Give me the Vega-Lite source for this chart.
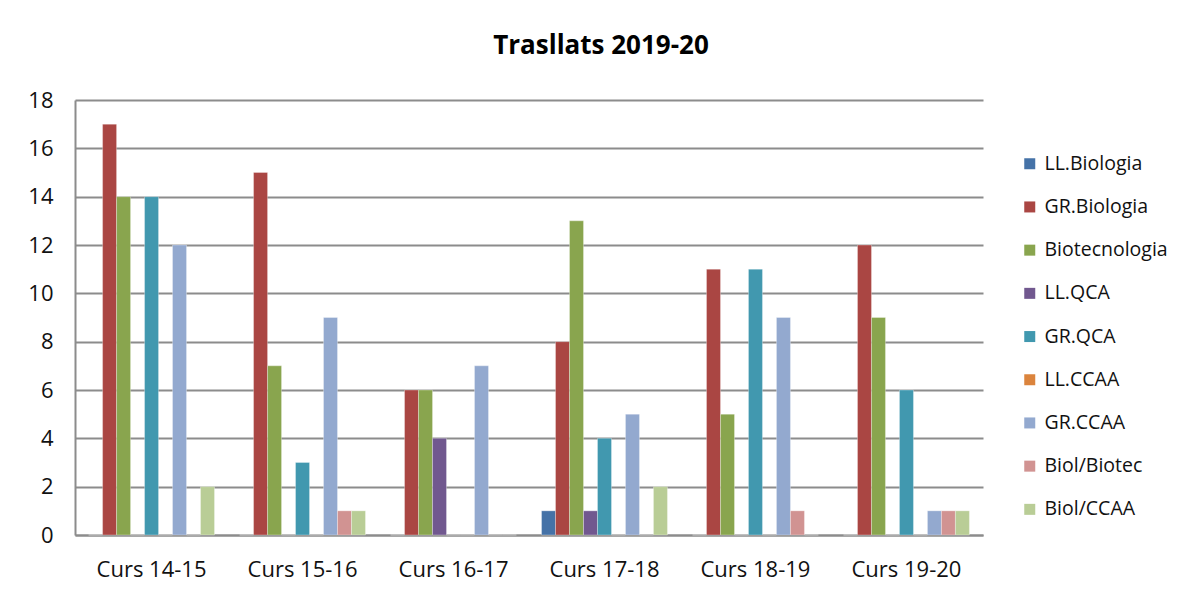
{
  "$schema": "https://vega.github.io/schema/vega-lite/v6.json",
  "width": 908,
  "height": 435,
  "autosize": "none",
  "padding": {"left": 75, "top": 100, "right": 196, "bottom": 59},
  "background": "white",
  "title": {
    "text": "Trasllats 2019-20",
    "font": "Open Sans",
    "fontSize": 26,
    "fontWeight": "bold",
    "color": "#000000",
    "anchor": "middle",
    "frame": "group",
    "dx": 72,
    "offset": 30
  },
  "data": {
    "values": [
      {"curs": "Curs 14-15", "serie": "LL.Biologia", "valor": 0},
      {"curs": "Curs 14-15", "serie": "GR.Biologia", "valor": 17},
      {"curs": "Curs 14-15", "serie": "Biotecnologia", "valor": 14},
      {"curs": "Curs 14-15", "serie": "LL.QCA", "valor": 0},
      {"curs": "Curs 14-15", "serie": "GR.QCA", "valor": 14},
      {"curs": "Curs 14-15", "serie": "LL.CCAA", "valor": 0},
      {"curs": "Curs 14-15", "serie": "GR.CCAA", "valor": 12},
      {"curs": "Curs 14-15", "serie": "Biol/Biotec", "valor": 0},
      {"curs": "Curs 14-15", "serie": "Biol/CCAA", "valor": 2},
      {"curs": "Curs 15-16", "serie": "LL.Biologia", "valor": 0},
      {"curs": "Curs 15-16", "serie": "GR.Biologia", "valor": 15},
      {"curs": "Curs 15-16", "serie": "Biotecnologia", "valor": 7},
      {"curs": "Curs 15-16", "serie": "LL.QCA", "valor": 0},
      {"curs": "Curs 15-16", "serie": "GR.QCA", "valor": 3},
      {"curs": "Curs 15-16", "serie": "LL.CCAA", "valor": 0},
      {"curs": "Curs 15-16", "serie": "GR.CCAA", "valor": 9},
      {"curs": "Curs 15-16", "serie": "Biol/Biotec", "valor": 1},
      {"curs": "Curs 15-16", "serie": "Biol/CCAA", "valor": 1},
      {"curs": "Curs 16-17", "serie": "LL.Biologia", "valor": 0},
      {"curs": "Curs 16-17", "serie": "GR.Biologia", "valor": 6},
      {"curs": "Curs 16-17", "serie": "Biotecnologia", "valor": 6},
      {"curs": "Curs 16-17", "serie": "LL.QCA", "valor": 4},
      {"curs": "Curs 16-17", "serie": "GR.QCA", "valor": 0},
      {"curs": "Curs 16-17", "serie": "LL.CCAA", "valor": 0},
      {"curs": "Curs 16-17", "serie": "GR.CCAA", "valor": 7},
      {"curs": "Curs 16-17", "serie": "Biol/Biotec", "valor": 0},
      {"curs": "Curs 16-17", "serie": "Biol/CCAA", "valor": 0},
      {"curs": "Curs 17-18", "serie": "LL.Biologia", "valor": 1},
      {"curs": "Curs 17-18", "serie": "GR.Biologia", "valor": 8},
      {"curs": "Curs 17-18", "serie": "Biotecnologia", "valor": 13},
      {"curs": "Curs 17-18", "serie": "LL.QCA", "valor": 1},
      {"curs": "Curs 17-18", "serie": "GR.QCA", "valor": 4},
      {"curs": "Curs 17-18", "serie": "LL.CCAA", "valor": 0},
      {"curs": "Curs 17-18", "serie": "GR.CCAA", "valor": 5},
      {"curs": "Curs 17-18", "serie": "Biol/Biotec", "valor": 0},
      {"curs": "Curs 17-18", "serie": "Biol/CCAA", "valor": 2},
      {"curs": "Curs 18-19", "serie": "LL.Biologia", "valor": 0},
      {"curs": "Curs 18-19", "serie": "GR.Biologia", "valor": 11},
      {"curs": "Curs 18-19", "serie": "Biotecnologia", "valor": 5},
      {"curs": "Curs 18-19", "serie": "LL.QCA", "valor": 0},
      {"curs": "Curs 18-19", "serie": "GR.QCA", "valor": 11},
      {"curs": "Curs 18-19", "serie": "LL.CCAA", "valor": 0},
      {"curs": "Curs 18-19", "serie": "GR.CCAA", "valor": 9},
      {"curs": "Curs 18-19", "serie": "Biol/Biotec", "valor": 1},
      {"curs": "Curs 18-19", "serie": "Biol/CCAA", "valor": 0},
      {"curs": "Curs 19-20", "serie": "LL.Biologia", "valor": 0},
      {"curs": "Curs 19-20", "serie": "GR.Biologia", "valor": 12},
      {"curs": "Curs 19-20", "serie": "Biotecnologia", "valor": 9},
      {"curs": "Curs 19-20", "serie": "LL.QCA", "valor": 0},
      {"curs": "Curs 19-20", "serie": "GR.QCA", "valor": 6},
      {"curs": "Curs 19-20", "serie": "LL.CCAA", "valor": 0},
      {"curs": "Curs 19-20", "serie": "GR.CCAA", "valor": 1},
      {"curs": "Curs 19-20", "serie": "Biol/Biotec", "valor": 1},
      {"curs": "Curs 19-20", "serie": "Biol/CCAA", "valor": 1}
    ]
  },
  "mark": {"type": "bar", "stroke": "white", "strokeWidth": 0.5, "strokeOpacity": 0.6},
  "encoding": {
    "x": {
      "field": "curs",
      "type": "nominal",
      "sort": null,
      "title": null,
      "scale": {"paddingInner": 0.166, "paddingOuter": 0.09},
      "axis": {
        "labelAngle": 0,
        "labelFont": "Open Sans",
        "labelFontSize": 22,
        "labelColor": "#111111",
        "labelPadding": 24,
        "ticks": false,
        "domainColor": "#8c8c8c",
        "domainWidth": 2,
        "grid": false
      }
    },
    "xOffset": {
      "field": "serie",
      "type": "nominal",
      "sort": ["LL.Biologia", "GR.Biologia", "Biotecnologia", "LL.QCA", "GR.QCA", "LL.CCAA", "GR.CCAA", "Biol/Biotec", "Biol/CCAA"],
      "scale": {"paddingInner": 0, "paddingOuter": 0}
    },
    "y": {
      "field": "valor",
      "type": "quantitative",
      "title": null,
      "scale": {"domain": [0, 18], "nice": false},
      "axis": {
        "values": [0, 2, 4, 6, 8, 10, 12, 14, 16, 18],
        "labelFont": "Open Sans",
        "labelFontSize": 22,
        "labelColor": "#111111",
        "labelPadding": 22,
        "ticks": false,
        "domain": true,
        "domainColor": "#8c8c8c",
        "domainWidth": 2,
        "gridColor": "#8c8c8c",
        "gridWidth": 2
      }
    },
    "color": {
      "field": "serie",
      "type": "nominal",
      "title": null,
      "sort": ["LL.Biologia", "GR.Biologia", "Biotecnologia", "LL.QCA", "GR.QCA", "LL.CCAA", "GR.CCAA", "Biol/Biotec", "Biol/CCAA"],
      "scale": {
        "domain": ["LL.Biologia", "GR.Biologia", "Biotecnologia", "LL.QCA", "GR.QCA", "LL.CCAA", "GR.CCAA", "Biol/Biotec", "Biol/CCAA"],
        "range": ["#4572A7", "#AA4643", "#89A54E", "#71588F", "#4198AF", "#DB843D", "#93A9CF", "#D19392", "#B9CD96"]
      },
      "legend": {
        "orient": "none",
        "legendX": 945,
        "legendY": 54,
        "padding": 0,
        "symbolType": "square",
        "symbolSize": 121,
        "symbolStrokeWidth": 0,
        "labelFont": "Open Sans",
        "labelFontSize": 19.5,
        "labelColor": "#111111",
        "labelOffset": 5,
        "rowPadding": 22.2
      }
    }
  },
  "config": {
    "view": {"stroke": null}
  }
}
